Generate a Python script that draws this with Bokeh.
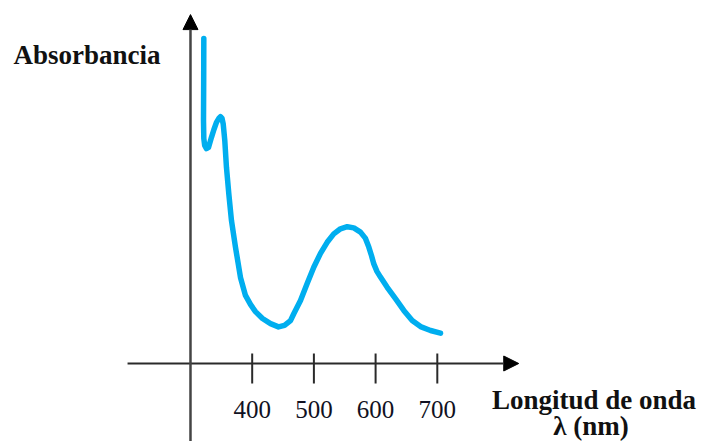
from bokeh.plotting import figure
from bokeh.models import Arrow, NormalHead, Label, ColumnDataSource
from bokeh.core.properties import value
from bokeh.embed import file_html
from bokeh.resources import INLINE

# Data
wavelength_nm = [321.6, 321.4, 321.1, 321.6, 323.0, 325.9, 329.2, 334.0, 338.0, 342.1,
                 346.2, 348.6, 351.1, 353.0, 355.6, 358.3, 362.1, 366.4, 372.9, 377.0,
                 381.0, 389.1, 397.2, 405.3, 416.7, 429.7, 442.6, 452.4, 462.1, 467.4,
                 478.3, 489.1, 499.8, 510.7, 521.5, 532.2, 543.1, 554.0, 564.7, 575.5,
                 583.6, 589.0, 593.3, 597.1, 602.2, 607.9, 618.8, 632.2, 645.7, 659.3,
                 672.8, 689.0, 705.2]
absorbance = [1.083, 0.943, 0.810, 0.750, 0.727, 0.716, 0.720, 0.754, 0.780, 0.804,
              0.818, 0.823, 0.817, 0.799, 0.743, 0.654, 0.566, 0.477, 0.388, 0.337,
              0.287, 0.227, 0.197, 0.173, 0.150, 0.133, 0.122, 0.127, 0.143, 0.166,
              0.210, 0.267, 0.321, 0.367, 0.404, 0.432, 0.449, 0.456, 0.452, 0.438,
              0.417, 0.388, 0.360, 0.332, 0.307, 0.288, 0.254, 0.216, 0.177, 0.143,
              0.123, 0.110, 0.101]
tick_values = [400, 500, 600, 700]
tick_labels = ["400", "500", "600", "700"]
y_label = "Absorbancia"
x_label_1 = "Longitud de onda"
x_label_2 = "λ (nm)"

p = figure(width=702, height=441, x_range=(-7.9, 1129.8), y_range=(-0.26, 1.21),
           output_backend="svg", toolbar_location=None, min_border=0)
p.xaxis.visible = False
p.yaxis.visible = False
p.xgrid.visible = False
p.ygrid.visible = False
p.outline_line_color = None
p.background_fill_color = "white"

axis_color = "#2a2a2a"
# axes as arrows
p.add_layout(Arrow(x_start=198, y_start=0, x_end=832, y_end=0,
                   line_color=axis_color, line_width=2,
                   end=NormalHead(size=15, fill_color="black", line_color="black")))
p.add_layout(Arrow(x_start=300, y_start=-0.35, x_end=300, y_end=1.163,
                   line_color="#444444", line_width=2.5,
                   end=NormalHead(size=15, fill_color="black", line_color="black")))

# ticks
p.segment(x0=tick_values, y0=[0.0333] * len(tick_values),
          x1=tick_values, y1=[-0.0667] * len(tick_values),
          line_color=axis_color, line_width=2)
p.text(x=tick_values, y=[-0.153] * len(tick_values), text=tick_labels,
       text_font=value("Liberation Serif"), text_font_size="25px",
       text_color="#111122", text_align="center", text_baseline="alphabetic")

# curve
src = ColumnDataSource(data=dict(x=wavelength_nm, y=absorbance))
p.line("x", "y", source=src, line_width=5.5, line_color="#00AEEF",
       line_join="round", line_cap="round")

# labels
p.add_layout(Label(x=13, y=1.03, text=y_label, text_font="Liberation Serif",
                   text_font_size="27px", text_font_style="bold",
                   text_color="#111111", text_baseline="middle", text_align="left"))
p.add_layout(Label(x=954, y=-0.123, text=x_label_1, text_font="Liberation Serif",
                   text_font_size="27px", text_font_style="bold",
                   text_color="#111111", text_baseline="alphabetic", text_align="center"))
p.add_layout(Label(x=949, y=-0.207, text=x_label_2, text_font="Liberation Serif",
                   text_font_size="27px", text_font_style="bold",
                   text_color="#111111", text_baseline="alphabetic", text_align="center"))

open("out.html", "w").write(file_html(p, INLINE))
